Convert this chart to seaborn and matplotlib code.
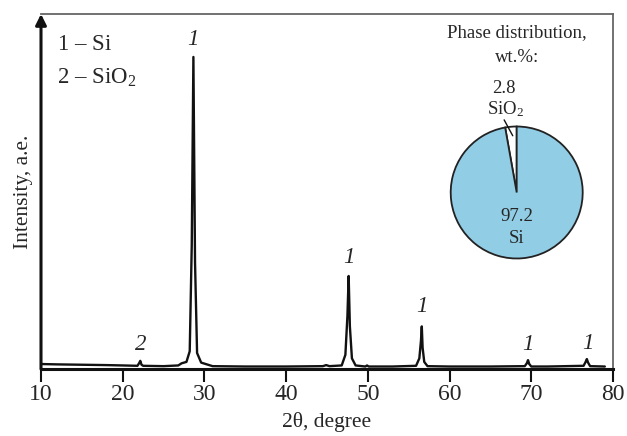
import matplotlib
matplotlib.use('Agg')
import matplotlib.pyplot as plt
import seaborn as sns

# XRD pattern (2theta, relative intensity)
two_theta = [10, 12, 15, 18, 20, 21.8, 22.0, 22.15, 22.3, 22.5,
             25, 26.8, 27.2, 27.8, 28.2, 28.45, 28.65, 28.85, 29.1, 29.6,
             31, 35, 40, 44.5, 44.9, 45.3, 46.8, 47.25, 47.5, 47.65,
             47.8, 48.05, 48.5, 49.7, 49.9, 50.1, 53, 55.9, 56.3, 56.5,
             56.6, 56.7, 56.9, 57.3, 60, 65, 69.2, 69.45, 69.6, 69.75,
             70.0, 72, 76.4, 76.65, 76.8, 76.95, 77.2, 79]
intensity = [0.014, 0.013, 0.012, 0.011, 0.01, 0.009, 0.016, 0.023, 0.012, 0.009,
             0.008, 0.01, 0.016, 0.02, 0.05, 0.35, 0.879, 0.3, 0.045, 0.018,
             0.008, 0.007, 0.007, 0.008, 0.011, 0.008, 0.01, 0.04, 0.15, 0.262,
             0.12, 0.03, 0.01, 0.007, 0.01, 0.007, 0.007, 0.009, 0.03, 0.08,
             0.12, 0.06, 0.02, 0.008, 0.007, 0.007, 0.008, 0.016, 0.025, 0.014,
             0.007, 0.007, 0.009, 0.02, 0.028, 0.018, 0.008, 0.007]

# peak labels
peak_pos = [22.15, 28.65, 47.65, 56.6, 69.6, 76.9]
peak_lab = ['2', '1', '1', '1', '1', '1']
peak_lab_y = [0.068, 0.927, 0.313, 0.175, 0.068, 0.073]

# phase distribution, wt.%
phases = ['SiO$_2$', 'Si']
wt_pct = [2.8, 97.2]
pie_colors = ['white', '#92cde6']

sns.set_style('ticks')
plt.rcParams['font.family'] = ['Liberation Serif', 'DejaVu Serif']
plt.rcParams['mathtext.fontset'] = 'custom'
plt.rcParams['mathtext.rm'] = 'Liberation Serif'
plt.rcParams['mathtext.it'] = 'Liberation Serif:italic'

fig = plt.figure(figsize=(6.27, 4.36), dpi=100)
ax = fig.add_axes([41/627, 1-369/436, 572/627, 355/436])

sns.lineplot(x=two_theta, y=intensity, ax=ax, color='#111111', lw=1.7)

ax.set_xlim(10, 80)
ax.set_ylim(0, 1)
ax.set_xticks(range(10, 81, 10))
ax.set_yticks([])
ax.tick_params(axis='x', direction='out', length=9, width=1.5, labelsize=17, pad=2, color='#111111')
ax.set_xlabel('2θ, degree', fontsize=15.5, labelpad=5)
ax.set_ylabel('Intensity, a.e.', fontsize=15.5, labelpad=6)

for s in ['top', 'right']:
    ax.spines[s].set_color('#666666')
    ax.spines[s].set_linewidth(1.3)
ax.spines['bottom'].set_linewidth(2.2)
ax.spines['bottom'].set_color('#111111')
ax.spines['left'].set_visible(False)
ax.annotate('', xy=(0, 1.0), xytext=(0, 0), xycoords='axes fraction',
            arrowprops=dict(arrowstyle='-|>', lw=2.2, color='#111111',
                            mutation_scale=16, shrinkA=0, shrinkB=0))

for x, lab, y in zip(peak_pos, peak_lab, peak_lab_y):
    ax.text(x, y, lab, fontsize=16.5, style='italic', ha='center', va='center')

ax.text(0.028, 0.915, r'$\it{1}$ – Si', transform=ax.transAxes, fontsize=16.5, va='center')
ax.text(0.028, 0.82, r'$\it{2}$ – SiO$_2$', transform=ax.transAxes, fontsize=16.5, va='center')

# pie inset
pax = fig.add_axes([(516.7-66)/627, 1-(192.5+66)/436, 132/627, 132/436])
pax.pie(wt_pct, colors=pie_colors, startangle=90, counterclock=True,
        wedgeprops=dict(edgecolor='#222222', linewidth=1.3))
pax.set_xlim(-1, 1)
pax.set_ylim(-1, 1)
pax.text(0, 2.42, 'Phase distribution,', ha='center', va='center', fontsize=13.5)
pax.text(0, 2.05, 'wt.%:', ha='center', va='center', fontsize=13.5)
pax.text(-0.19, 1.58, f'{wt_pct[0]}', ha='center', va='center', fontsize=13.5)
pax.text(-0.17, 1.27, phases[0], ha='center', va='center', fontsize=13.5)
pax.plot([-0.19, -0.06], [1.10, 0.86], color='#111111', lw=1.0, clip_on=False)
pax.text(0, -0.37, f'{wt_pct[1]}', ha='center', va='center', fontsize=13.5)
pax.text(0, -0.69, phases[1], ha='center', va='center', fontsize=13.5)

fig.savefig('out.png', dpi=100)
